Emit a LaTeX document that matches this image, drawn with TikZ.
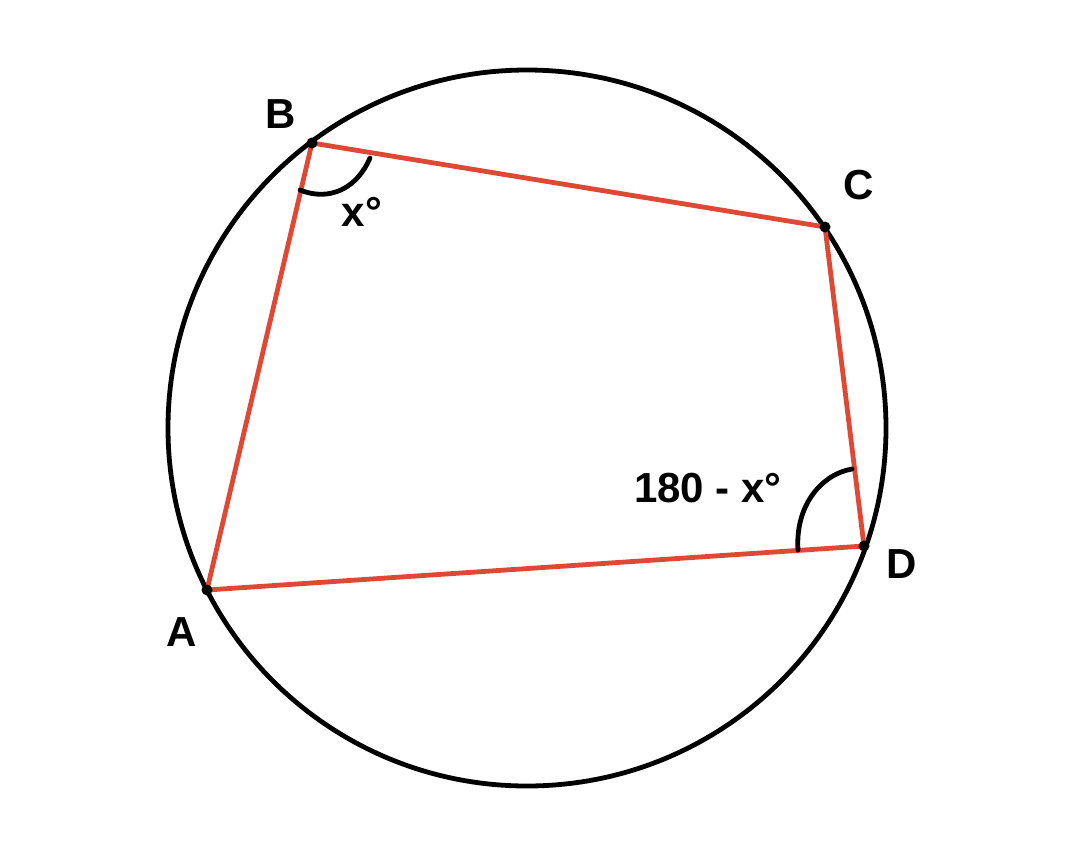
\documentclass[tikz,border=0pt]{standalone}
\usepackage{fontspec}
\setmainfont{Liberation Sans}
\definecolor{quadred}{RGB}{222,72,52}
\tikzset{
  circ/.style={draw=black, line width=4.8pt},
  quad/.style={draw=quadred, line width=4.8pt, line join=round},
  arcmark/.style={draw=black, line width=4.8pt, line cap=round},
  lbl/.style={font=\fontsize{42}{48}\selectfont\bfseries, inner sep=0pt},
  dotm/.style={circle, fill=black, inner sep=0pt, minimum size=11pt}
}
\begin{document}
\begin{tikzpicture}[x=1pt,y=-1pt]
\useasboundingbox (0,0) rectangle (1090,860);
\coordinate (O) at (527,428);
\draw[circ] (O) ellipse [x radius=359, y radius=358];
\coordinate (A) at (207,590);
\coordinate (B) at (312,143);
\coordinate (C) at (825,227);
\coordinate (D) at (864,546);
\draw[quad] (A) -- (B) -- (C) -- (D) -- cycle;
\node[dotm] (dA) at (A) {};
\node[dotm] (dB) at (B) {};
\node[dotm] (dC) at (C) {};
\node[dotm] (dD) at (D) {};
\node[lbl] (lB) at (281,114) {B};
\node[lbl] (lC) at (859,185) {C};
\node[lbl] (lD) at (902,564) {D};
\node[lbl] (lA) at (182,632) {A};
\coordinate (b1) at (300,190);
\coordinate (b2) at (370,158);
\draw[arcmark] (b1) .. controls (330,202) and (357,188) .. (b2);
\coordinate (d1) at (798,550);
\coordinate (d2) at (852,469);
\draw[arcmark] (d1) .. controls (795,505) and (822,474) .. (d2);
\node[lbl] (xa) at (362,212) {x°};
\node[lbl] (xd) at (708,488) {180 - x°};
\end{tikzpicture}
\end{document}
